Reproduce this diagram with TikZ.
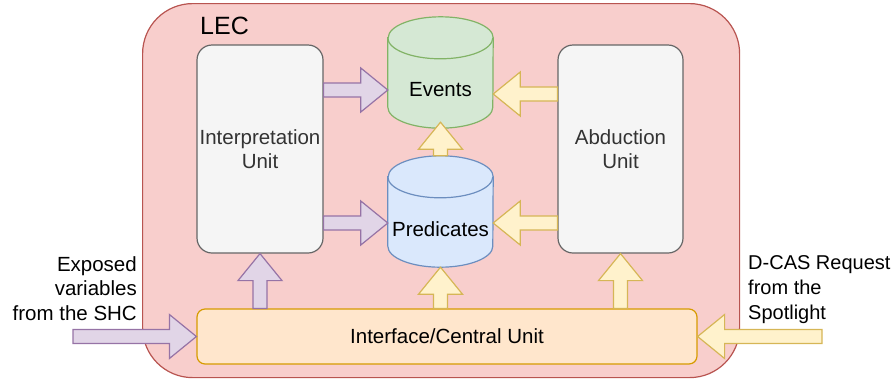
\documentclass[tikz,border=0pt]{standalone}
\usepackage{fontspec}
\setmainfont{Liberation Sans}
\usetikzlibrary{calc}
\definecolor{lecfill}{HTML}{F8CECC}
\definecolor{lecline}{HTML}{B85450}
\definecolor{unitfill}{HTML}{F5F5F5}
\definecolor{unitline}{HTML}{666666}
\definecolor{unittext}{HTML}{333333}
\definecolor{evfill}{HTML}{D5E8D4}
\definecolor{evline}{HTML}{82B366}
\definecolor{prfill}{HTML}{DAE8FC}
\definecolor{prline}{HTML}{6C8EBF}
\definecolor{iffill}{HTML}{FFE6CC}
\definecolor{ifline}{HTML}{D79B00}
\definecolor{purpfill}{HTML}{E1D5E7}
\definecolor{purpline}{HTML}{9673A6}
\definecolor{yelfill}{HTML}{FFF2CC}
\definecolor{yelline}{HTML}{D6B656}
\newcommand\lblfont{\fontsize{20.5}{24.5}\selectfont}
\newcommand\drawcyl[3]{%
  \path[fill=#2, draw=#3, line width=1.2pt]
    ($(#1.north west)+(0,-21)$) -- ($(#1.south west)+(0,21)$)
    arc (180:360:52.5 and 21) -- ($(#1.north east)+(0,-21)$)
    arc (0:180:52.5 and 21) -- cycle;
  \draw[#3, line width=1.2pt] ($(#1.north west)+(0,-21)$) arc (180:360:52.5 and 21);
}
\newcommand\flexarr[3]{%
  \coordinate (fah) at ($(#3)!27pt!(#2)$);
  \draw[#1] ($(#2)!7pt!90:(#3)$) -- ($(fah)!7pt!90:(#3)$) -- ($(fah)!22pt!90:(#3)$)
    -- (#3) -- ($(fah)!22pt!-90:(#3)$) -- ($(fah)!7pt!-90:(#3)$)
    -- ($(#2)!7pt!-90:(#3)$) -- cycle;
}
\tikzset{
  lecbox/.style={draw=lecline, fill=lecfill, line width=1.2pt, rounded corners=50pt,
    minimum width=597pt, minimum height=374pt, inner sep=0pt},
  unitbox/.style={draw=unitline, fill=unitfill, line width=1.2pt, rounded corners=15pt,
    minimum width=126pt, minimum height=208pt, inner sep=0pt, text=unittext,
    align=center, font=\lblfont},
  ifacebox/.style={draw=ifline, fill=iffill, line width=1.2pt, rounded corners=8pt,
    minimum width=500pt, minimum height=55pt, inner sep=0pt, font=\lblfont},
  cylnode/.style={minimum width=105pt, minimum height=111pt, inner sep=0pt},
  lbl/.style={font=\lblfont, inner sep=0pt},
  purplearr/.style={draw=purpline, fill=purpfill, line width=1.2pt, line join=miter},
  yellowarr/.style={draw=yelline, fill=yelfill, line width=1.2pt, line join=miter},
}
\begin{document}
\begin{tikzpicture}[x=1pt, y=1pt]
\useasboundingbox (0,0) rectangle (893,-381);
% container
\node[lecbox, anchor=north west] (lec) at (142,-3) {};
\node[anchor=base west, inner sep=0pt, font=\fontsize{25}{30}\selectfont] (lectxt) at (200,-34) {LEC};
% units
\node[unitbox] (interp) at (260,-149) {Interpretation\\Unit};
\node[unitbox, minimum width=125pt] (abd) at (620.5,-149) {Abduction\\Unit};
\node[ifacebox] (iface) at (447,-336.5) {Interface/Central Unit};
% cylinders
\node[cylnode] (ev) at (440.5,-72.5) {};
\node[cylnode] (pr) at (440.5,-211.5) {};
\drawcyl{ev}{evfill}{evline}
\drawcyl{pr}{prfill}{prline}
\node[lbl] (evlab) at (440.5,-90) {Events};
\node[lbl] (prlab) at (440.5,-229) {Predicates};
% outside labels
\node[lbl, align=right, anchor=base east] (expo) at (137,-320) {Exposed\\variables\\from the SHC};
\node[lbl, align=left, anchor=base west, font=\fontsize{20}{25}\selectfont] (dcas) at (748,-319) {D-CAS Request\\from the\\Spotlight};
% arrow end points
\coordinate (s1) at (interp.east |- 0,-90);   \coordinate (t1) at (ev.west |- 0,-90);
\coordinate (s2) at (interp.east |- 0,-223);  \coordinate (t2) at (pr.west |- 0,-223);
\coordinate (s3) at (abd.west |- 0,-94);      \coordinate (t3) at (ev.east |- 0,-94);
\coordinate (s4) at (abd.west |- 0,-223);     \coordinate (t4) at (pr.east |- 0,-223);
\coordinate (t5) at ($(ev.south)+(0,6)$);
\coordinate (s7) at (iface.north -| interp);
\coordinate (s6) at (iface.north -| pr);
\coordinate (s8) at (iface.north -| abd);
\coordinate (expoin) at (73,-336.5);
\coordinate (dcasin) at (822,-336.5);
% arrows
\flexarr{purplearr}{s1}{t1}
\flexarr{purplearr}{s2}{t2}
\flexarr{yellowarr}{s3}{t3}
\flexarr{yellowarr}{s4}{t4}
\flexarr{yellowarr}{pr.north}{t5}
\flexarr{yellowarr}{s6}{pr.south}
\flexarr{purplearr}{s7}{interp.south}
\flexarr{yellowarr}{s8}{abd.south}
\flexarr{purplearr}{expoin}{iface.west}
\flexarr{yellowarr}{dcasin}{iface.east}
\end{tikzpicture}
\end{document}
